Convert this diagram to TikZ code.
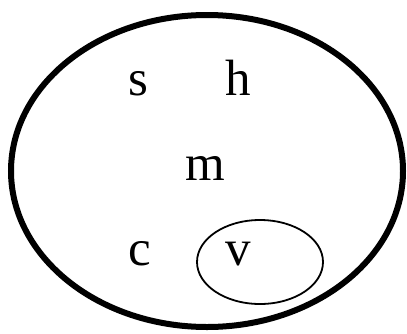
\documentclass[tikz,border=0pt]{standalone}
\usepackage{fontspec}
\setmainfont{Liberation Serif}
\begin{document}
\begin{tikzpicture}[x=1pt,y=-1pt,
  letter/.style={anchor=base,inner sep=0pt,font=\fontsize{51}{60}\selectfont},
  outerset/.style={draw=black,line width=6pt},
  innerset/.style={draw=black,line width=1.8pt}]
\useasboundingbox (0,0) rectangle (407,333);
\draw[outerset] (207,171) ellipse [x radius=196, y radius=156];
\draw[innerset] (260,262) ellipse [x radius=63, y radius=42];
\node[letter] (s) at (138,95) {s};
\node[letter] (h) at (238,95) {h};
\node[letter] (m) at (205,180) {m};
\node[letter] (c) at (140,265) {c};
\node[letter] (v) at (238,265) {v};
\end{tikzpicture}
\end{document}
